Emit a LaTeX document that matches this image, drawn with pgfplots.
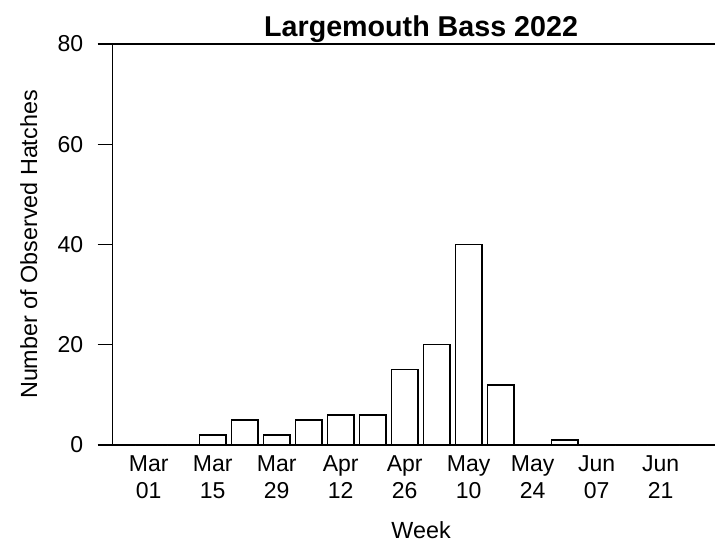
\documentclass[border=0pt]{standalone}
\usepackage{pgfplots}
\pgfplotsset{compat=1.18}
\usepackage{pgfplotstable}
\usepackage{fontspec}
\setmainfont{Liberation Sans}
\pgfplotstableread{
idx week  count
0  Mar01  0
1  Mar08  0
2  Mar15  2
3  Mar22  5
4  Mar29  2
5  Apr05  5
6  Apr12  6
7  Apr19  6
8  Apr26  15
9  May03  20
10 May10  40
11 May17  12
12 May24  0
13 May31  1
14 Jun07  0
15 Jun14  0
16 Jun21  0
17 Jun28  0
}\hatches
\begin{document}
\begin{tikzpicture}
\useasboundingbox (-67.62pt,-60.6pt) rectangle (361.38pt,267pt);
\begin{axis}[
  at={(0pt,0pt)}, anchor=south west,
  scale only axis,
  width=361.4pt, height=240.6pt,
  xmin=-1.125, xmax=17.7,
  ymin=0, ymax=80,
  axis x line*=box, axis y line*=left,
  axis line style={line width=0.75pt, black},
  ytick={0,20,40,60,80},
  tick align=outside,
  major tick length=9pt,
  y tick style={line width=0.75pt, black},
  xtick style={draw=none},
  xtick={0,2,4,6,8,10,12,14,16},
  xticklabels={{Mar\\01},{Mar\\15},{Mar\\29},{Apr\\12},{Apr\\26},{May\\10},{May\\24},{Jun\\07},{Jun\\21}},
  xticklabel style={align=center, yshift=6.4pt, font=\fontsize{13.8}{16.2}\selectfont},
  yticklabel style={xshift=-5.2pt, font=\fontsize{13.8}{15}\selectfont},
  /pgf/number format/assume math mode=true,
  every axis title shift=0pt,
  title={Largemouth Bass 2022},
  title style={at={(0.512,1)}, anchor=base, yshift=4.8pt, inner sep=0pt, font=\bfseries\fontsize{17.2}{20}\selectfont},
  xlabel={Week},
  xlabel style={at={(axis description cs:0.512,0)}, anchor=north, inner sep=0pt, yshift=-46pt, font=\fontsize{14}{16}\selectfont},
  ylabel={Number of Observed Hatches},
  ylabel style={at={(axis description cs:0,0.5)}, rotate=0, anchor=center, inner sep=0pt, yshift=50.4pt, font=\fontsize{14}{16}\selectfont},
]
\addplot[ybar, bar width=0.8333, fill=white, draw=black, line width=0.8pt] table[x=idx, y=count] {\hatches};
\end{axis}
\end{tikzpicture}
\end{document}
